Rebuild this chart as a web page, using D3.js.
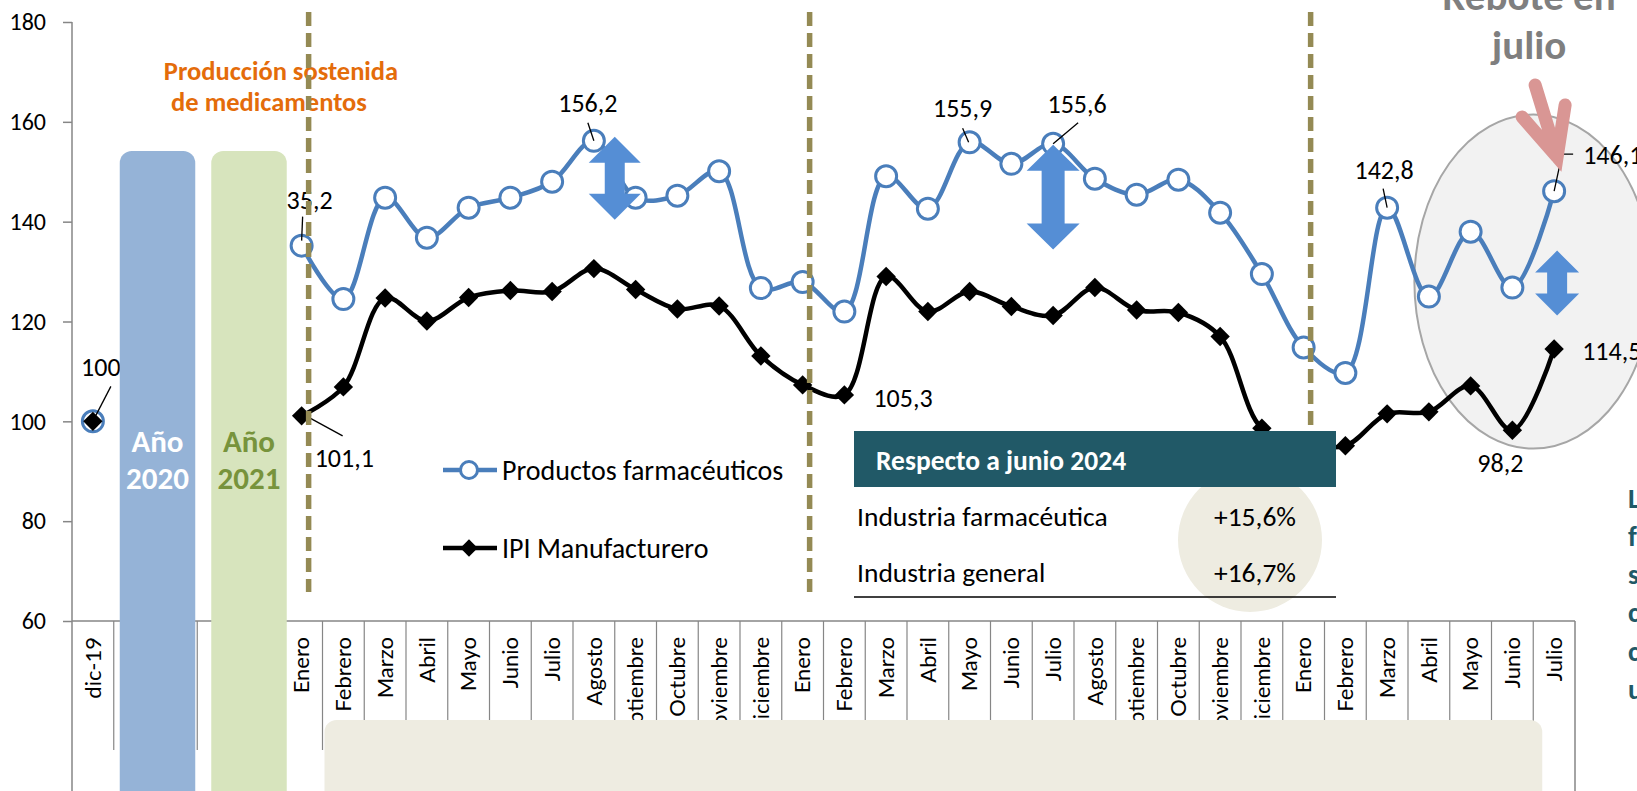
<!DOCTYPE html>
<html>
<head>
<meta charset="utf-8">
<script src="https://cdn.jsdelivr.net/npm/d3@7"></script>
<style>
  body { margin: 0; overflow: hidden; background: #fff; }
  svg { display: block; font-family: Carlito, Calibri, Lato, sans-serif; }
</style>
</head>
<body>
<div id="wrapper"></div>
<script>
// categories (dic-19, 4 hidden slots under the year boxes, then months)
const months2023 = ['Enero','Febrero','Marzo','Abril','Mayo','Junio','Julio','Agosto','Septiembre','Octubre','Noviembre','Diciembre'];
const months2024 = ['Enero','Febrero','Marzo','Abril','Mayo','Junio','Julio','Agosto','Septiembre','Octubre','Noviembre','Diciembre'];
const months2025 = ['Enero','Febrero','Marzo','Abril','Mayo','Junio','Julio'];
const categories = ['dic-19', '', '', '', ''].concat(months2023, months2024, months2025);

const pharmaValues = [100, null, null, null, null,
  135.2, 124.5, 144.8, 136.8, 142.8, 144.8, 148.0, 156.2, 144.8, 145.2, 150.1, 126.7,
  127.9, 122.0, 149.1, 142.6, 155.9, 151.6, 155.6, 148.6, 145.4, 148.4, 141.8, 129.5,
  114.8, 109.7, 142.8, 125.0, 138.0, 126.8, 146.1];
const manufValues = [100, null, null, null, null,
  101.1, 106.9, 124.7, 120.1, 124.8, 126.2, 126.0, 130.6, 126.4, 122.5, 123.1, 113.1,
  107.3, 105.3, 129.0, 122.0, 126.0, 123.0, 121.2, 126.8, 122.3, 121.8, 117.0, 98.6,
  95.8, 95.1, 101.5, 101.9, 107.1, 98.2, 114.5];

const yTicks = [60, 80, 100, 120, 140, 160, 180];
const seriesNames = ['Productos farmacéuticos', 'IPI Manufacturero'];
const pharmaLabelIdx = [5, 12, 21, 23, 31, 35];
const manufLabelIdx = [0, 5, 18, 34, 35];
const yearBoxes = [['Año', '2020'], ['Año', '2021']];
const tableTitle = 'Respecto a junio 2024';
const tableNames = ['Industria farmacéutica', 'Industria general'];
const tableValues = ['+15,6%', '+16,7%'];
const noteTitle = ['Producción sostenida', 'de medicamentos'];
const reboteText = ['Rebote en', 'julio'];
const sideLetters = ['L', 'f', 's', 'c', 'c', 'u'];

function drawChart() {
  const dimensions = {
    width: 1637,
    height: 791,
    left: 72,
    right: 1575,
    top: 22,
    axisY: 621,
  };

  const svg = d3.select('#wrapper').append('svg')
    .attr('width', dimensions.width)
    .attr('height', dimensions.height);

  const xScale = d3.scaleBand()
    .domain(d3.range(categories.length))
    .range([dimensions.left, dimensions.right]);
  const bw = xScale.bandwidth();
  const xc = i => xScale(i) + bw / 2;

  const yScale = d3.scaleLinear()
    .domain([60, 180])
    .range([dimensions.axisY, dimensions.top]);

  // y axis
  const yAxis = svg.append('g')
    .attr('transform', `translate(${dimensions.left},0)`)
    .call(d3.axisLeft(yScale).tickValues(yTicks).tickSize(9).tickPadding(17).tickFormat(d3.format('d')));
  yAxis.select('.domain').remove();
  yAxis.selectAll('line').attr('stroke', '#868686').attr('stroke-width', 1.5);
  yAxis.selectAll('text').attr('font-size', 24).attr('fill', '#000').style('font-family', 'Carlito, Calibri, Lato, sans-serif');

  const grey = '#868686';
  svg.append('line').attr('x1', dimensions.left).attr('x2', dimensions.left)
    .attr('y1', dimensions.top).attr('y2', dimensions.height).attr('stroke', grey).attr('stroke-width', 1.5);
  svg.append('line').attr('x1', dimensions.left).attr('x2', dimensions.right)
    .attr('y1', dimensions.axisY).attr('y2', dimensions.axisY).attr('stroke', grey).attr('stroke-width', 1.5);
  svg.append('line').attr('x1', dimensions.right).attr('x2', dimensions.right)
    .attr('y1', dimensions.axisY).attr('y2', dimensions.height).attr('stroke', grey).attr('stroke-width', 1.5);

  // category separators
  svg.append('g').selectAll('line')
    .data(d3.range(1, categories.length))
    .join('line')
    .attr('x1', d => xScale(d)).attr('x2', d => xScale(d))
    .attr('y1', dimensions.axisY).attr('y2', 750)
    .attr('stroke', grey).attr('stroke-width', 1.2);

  // category labels
  svg.append('g').selectAll('text')
    .data(categories)
    .join('text')
    .attr('transform', (d, i) => `translate(${xc(i)},637) rotate(-90)`)
    .attr('text-anchor', 'end')
    .attr('dy', '0.35em')
    .attr('font-size', 22)
    .style('font-family', 'Lato, sans-serif')
    .text(d => d);

  // bottom beige band
  svg.append('rect')
    .attr('x', xScale(6) + 2).attr('y', 720)
    .attr('width', xScale(35) + 9 - xScale(6) - 2).attr('height', 110)
    .attr('rx', 12).attr('fill', '#EEECE1');

  // grey ellipse around last months
  svg.append('ellipse')
    .attr('cx', xc(34) + 21).attr('cy', yScale(128))
    .attr('rx', 119).attr('ry', 167)
    .attr('fill', '#F2F2F2').attr('stroke', '#A6A6A6').attr('stroke-width', 2);

  // series
  const lineGen = d3.line()
    .defined(d => d.v != null)
    .x(d => xc(d.i))
    .y(d => yScale(d.v))
    .curve(d3.curveCatmullRom.alpha(0.5));

  const pharma = pharmaValues.map((v, i) => ({ i, v }));
  const manuf = manufValues.map((v, i) => ({ i, v }));

  svg.append('path').attr('d', lineGen(pharma))
    .attr('fill', 'none').attr('stroke', '#4A7EBB').attr('stroke-width', 4.5);
  svg.append('path').attr('d', lineGen(manuf))
    .attr('fill', 'none').attr('stroke', '#000').attr('stroke-width', 4.5);

  svg.append('g').selectAll('circle')
    .data(pharma.filter(d => d.v != null))
    .join('circle')
    .attr('cx', d => xc(d.i)).attr('cy', d => yScale(d.v))
    .attr('r', 10.5).attr('fill', '#fff').attr('stroke', '#4A7EBB').attr('stroke-width', 3);

  const diamond = d3.symbol().type(d3.symbolDiamond2).size(240);
  svg.append('g').selectAll('path')
    .data(manuf.filter(d => d.v != null))
    .join('path')
    .attr('d', diamond)
    .attr('transform', d => `translate(${xc(d.i)},${yScale(d.v)})`)
    .attr('fill', '#000');

  // data labels
  const fmt = v => (v % 1 === 0 ? String(v) : v.toFixed(1).replace('.', ','));
  const pharmaLayout = {
    5: { dx: 31, dy: -46, anchor: 'end', leader: [[1, -29], [0, -5]] },
    12: { dx: -6, dy: -38, anchor: 'middle', leader: [[-6, -18], [0, 0]] },
    21: { dx: -7, dy: -34, anchor: 'middle', leader: [[-7, -14], [-1, 0]] },
    23: { dx: 24, dy: -40, anchor: 'middle', leader: [[25, -21], [0, 0]] },
    31: { dx: -3, dy: -38, anchor: 'middle', leader: [[-4, -19], [0, 0]] },
    35: { dx: 29, dy: -36, anchor: 'start', leader: [[19, -37], [8, -37], [0, 0]] },
  };
  const manufLayout = {
    0: { dx: 8, dy: -54, anchor: 'middle', leader: [[18, -35], [3, -6]] },
    5: { dx: 13, dy: 42, anchor: 'start', leader: [[8, 2], [41, 20]] },
    18: { dx: 29, dy: 3, anchor: 'start' },
    34: { dx: -12, dy: 33, anchor: 'middle' },
    35: { dx: 28, dy: 2, anchor: 'start' },
  };
  const labels = svg.append('g');
  function addLabels(idx, values, layout) {
    idx.forEach(i => {
      const L = layout[i];
      const px = xc(i), py = yScale(values[i]);
      labels.append('text')
        .attr('x', px + L.dx).attr('y', py + L.dy).attr('dy', '0.35em')
        .attr('text-anchor', L.anchor).attr('font-size', 26)
        .text(fmt(values[i]));
      if (L.leader) {
        labels.append('path')
          .attr('d', d3.line()(L.leader.map(p => [px + p[0], py + p[1]])))
          .attr('fill', 'none').attr('stroke', '#000').attr('stroke-width', 1.3);
      }
    });
  }
  addLabels(pharmaLabelIdx, pharmaValues, pharmaLayout);
  addLabels(manufLabelIdx, manufValues, manufLayout);

  // year boxes
  const boxColors = [['#95B3D7', '#FFFFFF'], ['#D7E4BD', '#77933C']];
  yearBoxes.forEach((lines, k) => {
    const x0 = xScale(1 + 2 * k) + 6 + k * 8;
    const g = svg.append('g');
    g.append('rect')
      .attr('x', x0).attr('y', 151)
      .attr('width', 2 * bw - 8).attr('height', 700)
      .attr('rx', 12).attr('fill', boxColors[k][0]);
    g.selectAll('text').data(lines).join('text')
      .attr('x', x0 + bw - 4).attr('y', (d, j) => 441 + j * 37).attr('dy', '0.35em')
      .attr('text-anchor', 'middle').attr('font-size', 31).attr('font-weight', 'bold')
      .attr('fill', boxColors[k][1]).text(d => d);
  });

  // orange note
  svg.append('g').selectAll('text').data(noteTitle).join('text')
    .attr('x', (d, j) => 281 - j * 12).attr('y', (d, j) => 71 + j * 31).attr('dy', '0.35em')
    .attr('text-anchor', 'middle').attr('font-size', 26.5).attr('font-weight', 'bold')
    .attr('fill', '#E46C0A').text(d => d);

  // dashed year separators
  svg.append('g').selectAll('line')
    .data([5, 17, 29])
    .join('line')
    .attr('x1', d => xc(d) + 7).attr('x2', d => xc(d) + 7)
    .attr('y1', 12).attr('y2', 592)
    .attr('stroke', '#948A54').attr('stroke-width', 5.5).attr('stroke-dasharray', '14 7');

  // blue double arrows
  function doubleArrow(cx, top, bottom, headW, headH, shaftW) {
    return `M${cx},${top} L${cx + headW / 2},${top + headH} L${cx + shaftW / 2},${top + headH}
      L${cx + shaftW / 2},${bottom - headH} L${cx + headW / 2},${bottom - headH} L${cx},${bottom}
      L${cx - headW / 2},${bottom - headH} L${cx - shaftW / 2},${bottom - headH}
      L${cx - shaftW / 2},${top + headH} L${cx - headW / 2},${top + headH} Z`;
  }
  const arrows = [
    [(xc(12) + xc(13)) / 2, yScale(157), yScale(140.4), 52, 26, 20],
    [xc(23), yScale(155.4), yScale(134.4), 53, 26, 23],
    [xc(35) + 3, yScale(134.2), yScale(121.2), 44, 22, 20],
  ];
  svg.append('g').selectAll('path').data(arrows).join('path')
    .attr('d', d => doubleArrow(...d)).attr('fill', '#558ED5');

  // pink arrow and "Rebote en julio"
  const tipX = xc(35) + 3, tipY = 157;
  svg.append('path')
    .attr('d', `M${tipX - 22},85 L${tipX},${tipY} M${tipX - 35},117 L${tipX},${tipY} L${tipX + 8},105`)
    .attr('fill', 'none').attr('stroke', '#D99694').attr('stroke-width', 13)
    .attr('stroke-linejoin', 'miter').attr('stroke-linecap', 'round');
  svg.append('g').selectAll('text').data(reboteText).join('text')
    .attr('x', 1529).attr('y', (d, j) => 10 + j * 49)
    .attr('text-anchor', 'middle').attr('font-size', 41).attr('font-weight', 'bold')
    .attr('fill', '#7F7F7F').text(d => d);

  // summary table
  const table = svg.append('g');
  const tx0 = 854, tx1 = 1336;
  table.append('rect').attr('x', tx0).attr('y', 487).attr('width', tx1 - tx0).attr('height', 110).attr('fill', '#fff');
  table.append('circle').attr('cx', 1250).attr('cy', 540).attr('r', 72).attr('fill', '#EEECE1');
  table.append('rect').attr('x', tx0).attr('y', 431).attr('width', tx1 - tx0).attr('height', 56).attr('fill', '#215967');
  table.append('text').attr('x', 876).attr('y', 460).attr('dy', '0.35em')
    .attr('font-size', 27.5).attr('font-weight', 'bold').attr('fill', '#fff').text(tableTitle);
  table.selectAll('.name').data(tableNames).join('text').attr('class', 'name')
    .attr('x', 857).attr('y', (d, j) => 516 + j * 56).attr('dy', '0.35em')
    .attr('font-size', 27.5).text(d => d);
  table.selectAll('.val').data(tableValues).join('text').attr('class', 'val')
    .attr('x', 1296).attr('y', (d, j) => 516 + j * 56).attr('dy', '0.35em')
    .attr('text-anchor', 'end').attr('font-size', 27.5).text(d => d);
  table.append('line').attr('x1', tx0).attr('x2', tx1).attr('y1', 597).attr('y2', 597)
    .attr('stroke', '#000').attr('stroke-width', 1.5);

  // legend
  const legend = svg.append('g');
  [0, 1].forEach(k => {
    const ly = 470 + k * 78;
    legend.append('line').attr('x1', 443).attr('x2', 497).attr('y1', ly).attr('y2', ly)
      .attr('stroke', k ? '#000' : '#4A7EBB').attr('stroke-width', 4.5);
    if (k) {
      legend.append('path').attr('d', d3.symbol().type(d3.symbolDiamond2).size(190))
        .attr('transform', `translate(469,${ly})`).attr('fill', '#000');
    } else {
      legend.append('circle').attr('cx', 469).attr('cy', ly).attr('r', 8.5)
        .attr('fill', '#fff').attr('stroke', '#4A7EBB').attr('stroke-width', 3);
    }
    legend.append('text').attr('x', 502).attr('y', ly).attr('dy', '0.35em')
      .attr('font-size', 28).text(seriesNames[k]);
  });

  // side note (cut at the right edge)
  svg.append('g').selectAll('text').data(sideLetters).join('text')
    .attr('x', 1628).attr('y', (d, j) => 498 + j * 38.2).attr('dy', '0.35em')
    .attr('font-size', 28).attr('font-weight', 'bold').attr('fill', '#215967').text(d => d);
}

drawChart();
</script>
</body>
</html>
